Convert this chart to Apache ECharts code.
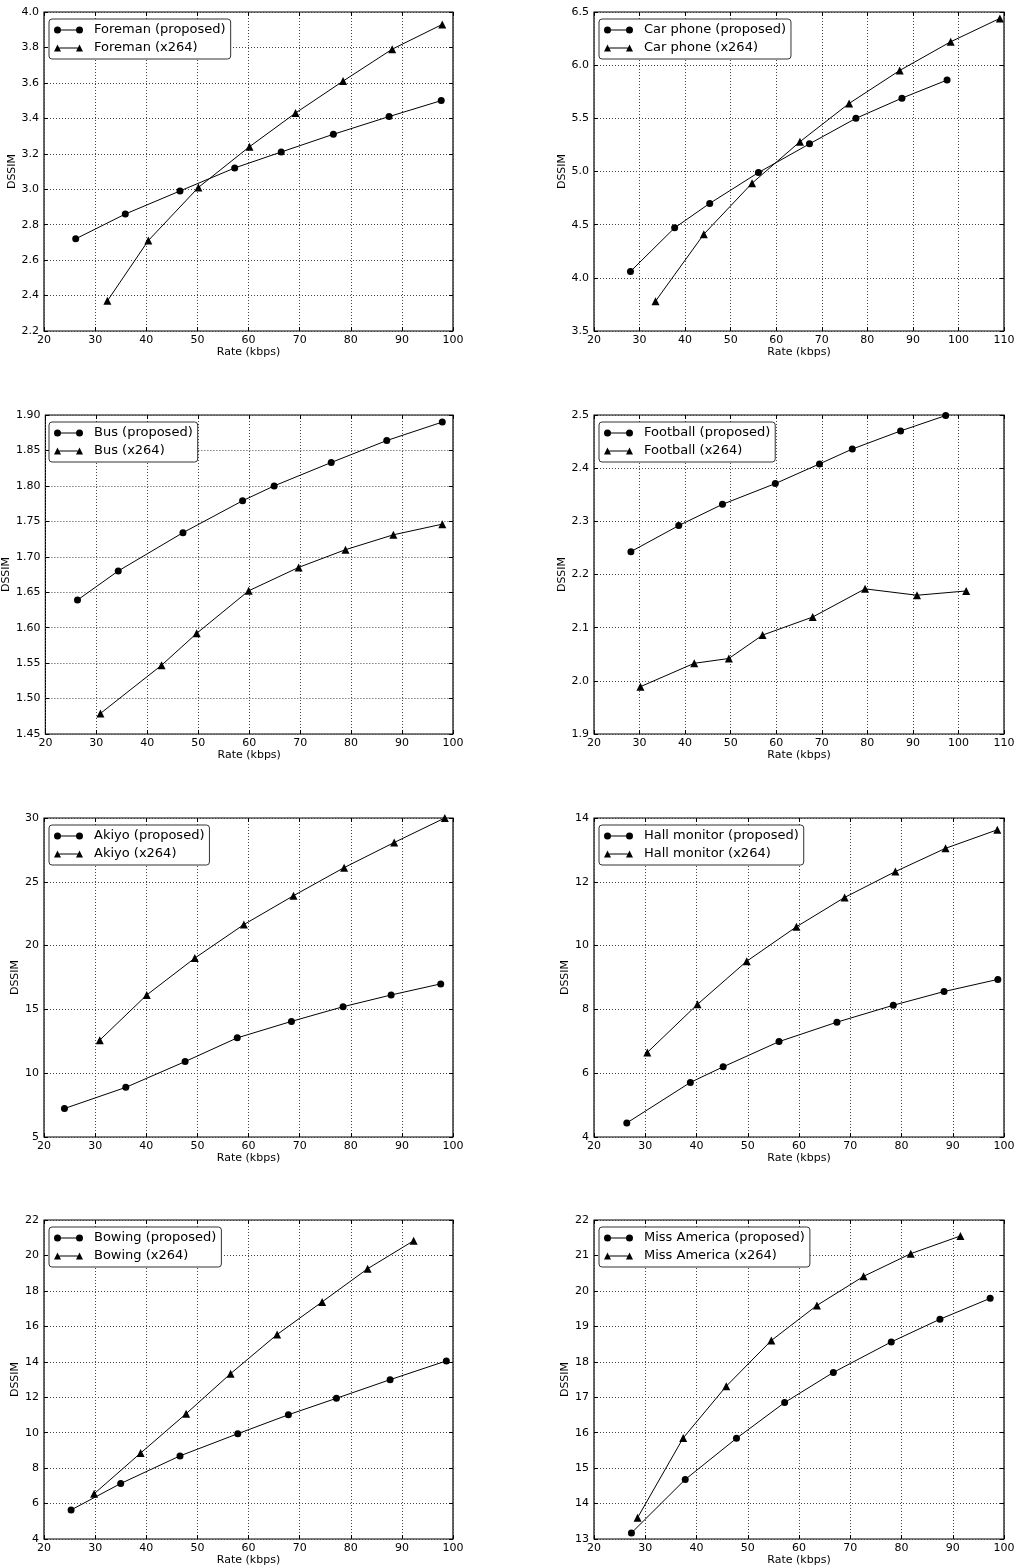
<!DOCTYPE html>
<html>
<head>
<meta charset="utf-8">
<script src="https://cdn.jsdelivr.net/npm/echarts@6/dist/echarts.min.js"></script>
<style>
html,body{margin:0;padding:0;background:#fff;}
#chart{width:1020px;height:1568px;}
</style>
</head>
<body>
<div id="chart"></div>
<script>
// ---------------- DATA ----------------
const foremanPropRate  = [26.2, 35.9, 46.6, 57.3, 66.4, 76.6, 87.5, 97.7];
const foremanPropDssim = [2.72, 2.86, 2.99, 3.12, 3.21, 3.31, 3.41, 3.50];
const foremanX264Rate  = [32.4, 40.4, 50.2, 60.2, 69.2, 78.5, 88.1, 97.9];
const foremanX264Dssim = [2.37, 2.71, 3.01, 3.24, 3.43, 3.61, 3.79, 3.93];

const carPropRate  = [28.0, 37.7, 45.4, 56.1, 67.3, 77.5, 87.6, 97.5];
const carPropDssim = [4.06, 4.47, 4.70, 4.99, 5.26, 5.50, 5.69, 5.86];
const carX264Rate  = [33.5, 44.1, 54.7, 65.2, 76.0, 87.1, 98.3, 109.1];
const carX264Dssim = [3.78, 4.41, 4.89, 5.28, 5.64, 5.95, 6.22, 6.44];

const busPropRate  = [26.3, 34.3, 47.0, 58.7, 64.9, 76.1, 87.0, 97.9];
const busPropDssim = [1.639, 1.680, 1.734, 1.779, 1.800, 1.833, 1.864, 1.890];
const busX264Rate  = [30.8, 42.8, 49.7, 59.9, 69.7, 78.9, 88.3, 97.9];
const busX264Dssim = [1.479, 1.547, 1.592, 1.652, 1.685, 1.710, 1.731, 1.746];

const footPropRate  = [28.1, 38.6, 48.2, 59.8, 69.5, 76.7, 87.3, 97.2];
const footPropDssim = [2.243, 2.292, 2.332, 2.371, 2.408, 2.436, 2.470, 2.499];
const footX264Rate  = [30.2, 42.0, 49.6, 57.0, 68.0, 79.5, 90.9, 101.7];
const footX264Dssim = [1.989, 2.033, 2.042, 2.086, 2.120, 2.173, 2.161, 2.169];

const akiyoPropRate  = [24.0, 36.0, 47.6, 57.8, 68.4, 78.5, 87.9, 97.6];
const akiyoPropDssim = [7.23, 8.89, 10.91, 12.77, 14.06, 15.21, 16.13, 17.00];
const akiyoX264Rate  = [30.9, 40.1, 49.5, 59.1, 68.8, 78.7, 88.5, 98.4];
const akiyoX264Dssim = [12.59, 16.13, 19.02, 21.65, 23.91, 26.11, 28.08, 30.0];

const hallPropRate  = [26.4, 38.8, 45.2, 56.1, 67.4, 78.4, 88.3, 98.8];
const hallPropDssim = [4.44, 5.71, 6.20, 6.99, 7.60, 8.13, 8.56, 8.94];
const hallX264Rate  = [30.4, 40.2, 49.8, 59.5, 68.9, 78.8, 88.6, 98.7];
const hallX264Dssim = [6.65, 8.16, 9.51, 10.59, 11.51, 12.32, 13.05, 13.63];

const bowPropRate  = [25.3, 35.0, 46.6, 57.9, 67.8, 77.2, 87.7, 98.7];
const bowPropDssim = [5.64, 7.13, 8.69, 9.94, 11.01, 11.94, 12.99, 14.05];
const bowX264Rate  = [29.8, 38.9, 47.8, 56.5, 65.6, 74.4, 83.3, 92.3];
const bowX264Dssim = [6.55, 8.85, 11.07, 13.33, 15.54, 17.38, 19.25, 20.83];

const missPropRate  = [27.3, 37.8, 47.8, 57.2, 66.7, 78.0, 87.5, 97.3];
const missPropDssim = [13.17, 14.68, 15.84, 16.85, 17.70, 18.56, 19.20, 19.79];
const missX264Rate  = [28.5, 37.4, 45.8, 54.6, 63.5, 72.6, 81.8, 91.5];
const missX264Dssim = [13.60, 15.85, 17.31, 18.60, 19.59, 20.41, 21.05, 21.55];

// axis ticks: [min, max, step, decimals]
const foremanYTicks = [2.2, 4.0, 0.2, 1];
const carYTicks     = [3.5, 6.5, 0.5, 1];
const busYTicks     = [1.45, 1.90, 0.05, 2];
const footYTicks    = [1.9, 2.5, 0.1, 1];
const akiyoYTicks   = [5, 30, 5, 0];
const hallYTicks    = [4, 14, 2, 0];
const bowYTicks     = [4, 22, 2, 0];
const missYTicks    = [13, 22, 1, 0];
const xTicks100 = [20, 100, 10];
const xTicks110 = [20, 110, 10];

const sequenceNames = ['Foreman', 'Car phone', 'Bus', 'Football', 'Akiyo', 'Hall monitor', 'Bowing', 'Miss America'];
const xLabel = 'Rate (kbps)';
const yLabel = 'DSSIM';

// ---------------- LAYOUT ----------------
const panels = [
  {name: sequenceNames[0], p: [foremanPropRate, foremanPropDssim], x: [foremanX264Rate, foremanX264Dssim], yt: foremanYTicks, xt: xTicks100, col: 0, row: 0, yGap: 22},
  {name: sequenceNames[1], p: [carPropRate, carPropDssim], x: [carX264Rate, carX264Dssim], yt: carYTicks, xt: xTicks110, col: 1, row: 0, yGap: 22},
  {name: sequenceNames[2], p: [busPropRate, busPropDssim], x: [busX264Rate, busX264Dssim], yt: busYTicks, xt: xTicks100, col: 0, row: 1, yGap: 29},
  {name: sequenceNames[3], p: [footPropRate, footPropDssim], x: [footX264Rate, footX264Dssim], yt: footYTicks, xt: xTicks110, col: 1, row: 1, yGap: 22},
  {name: sequenceNames[4], p: [akiyoPropRate, akiyoPropDssim], x: [akiyoX264Rate, akiyoX264Dssim], yt: akiyoYTicks, xt: xTicks100, col: 0, row: 2, yGap: 19},
  {name: sequenceNames[5], p: [hallPropRate, hallPropDssim], x: [hallX264Rate, hallX264Dssim], yt: hallYTicks, xt: xTicks100, col: 1, row: 2, yGap: 19},
  {name: sequenceNames[6], p: [bowPropRate, bowPropDssim], x: [bowX264Rate, bowX264Dssim], yt: bowYTicks, xt: xTicks100, col: 0, row: 3, yGap: 19},
  {name: sequenceNames[7], p: [missPropRate, missPropDssim], x: [missX264Rate, missX264Dssim], yt: missYTicks, xt: xTicks100, col: 1, row: 3, yGap: 19}
];
const colLeft = [44, 594];
const colWidth = [409, 410];
const rowTop = [12, 415, 818, 1220];
const plotH = 319;

const FONT = 'DejaVu Sans';
const circleIcon = 'path://M0,3.5A3.5,3.5,0,1,0,7,3.5A3.5,3.5,0,1,0,0,3.5ZM22,3.5A3.5,3.5,0,1,0,29,3.5A3.5,3.5,0,1,0,22,3.5ZM7,3L22,3L22,4L7,4Z';
const triIcon = 'path://M3.5,0L7,7L0,7ZM25.5,0L29,7L22,7ZM5.25,3L23.75,3L23.75,4L5.25,4Z';

const grids = [], xAxes = [], yAxes = [], series = [], legends = [];
const zip = (a, b) => a.map((v, i) => [v, b[i]]);

panels.forEach((pn, i) => {
  const left = colLeft[pn.col], top = rowTop[pn.row];
  grids.push({left: left, top: top, width: colWidth[pn.col], height: plotH,
    show: true, borderColor: '#000', borderWidth: 1.2, backgroundColor: 'transparent'});
  const dec = pn.yt[3];
  xAxes.push({type: 'value', gridIndex: i, min: pn.xt[0], max: pn.xt[1], interval: pn.xt[2], position: 'bottom',
    name: xLabel, nameLocation: 'middle', nameGap: 16,
    nameTextStyle: {fontFamily: FONT, fontSize: 11, color: '#000'},
    axisLine: {show: false}, axisTick: {show: true, inside: true, length: 4, lineStyle: {color: '#000'}},
    axisLabel: {fontFamily: FONT, fontSize: 11, color: '#000', margin: 4},
    splitLine: {show: true, lineStyle: {color: '#444', type: [1, 2], width: 1}}});
  xAxes.push({type: 'value', gridIndex: i, min: pn.xt[0], max: pn.xt[1], interval: pn.xt[2], position: 'top',
    axisLine: {show: false}, axisTick: {show: true, inside: true, length: 4, lineStyle: {color: '#000'}},
    axisLabel: {show: false}, splitLine: {show: false}});
  yAxes.push({type: 'value', gridIndex: i, min: pn.yt[0], max: pn.yt[1], interval: pn.yt[2], position: 'left',
    name: yLabel, nameLocation: 'middle', nameGap: pn.yGap,
    nameTextStyle: {fontFamily: FONT, fontSize: 11, color: '#000'},
    axisLine: {show: false}, axisTick: {show: true, inside: true, length: 4, lineStyle: {color: '#000'}},
    axisLabel: {fontFamily: FONT, fontSize: 11, color: '#000', margin: 5, formatter: v => v.toFixed(dec)},
    splitLine: {show: true, lineStyle: {color: '#444', type: [1, 2], width: 1}}});
  yAxes.push({type: 'value', gridIndex: i, min: pn.yt[0], max: pn.yt[1], interval: pn.yt[2], position: 'right',
    axisLine: {show: false}, axisTick: {show: true, inside: true, length: 4, lineStyle: {color: '#000'}},
    axisLabel: {show: false}, splitLine: {show: false}});

  const nProp = pn.name + ' (proposed)';
  const nX = pn.name + ' (x264)';
  series.push({type: 'line', name: nProp, xAxisIndex: 2 * i, yAxisIndex: 2 * i, data: zip(pn.p[0], pn.p[1]),
    symbol: 'circle', symbolSize: 7, color: '#000', lineStyle: {color: '#000', width: 1},
    itemStyle: {color: '#000'}, clip: false, z: 3});
  series.push({type: 'line', name: nX, xAxisIndex: 2 * i, yAxisIndex: 2 * i, data: zip(pn.x[0], pn.x[1]),
    symbol: 'triangle', symbolSize: 8, color: '#000', lineStyle: {color: '#000', width: 1},
    itemStyle: {color: '#000'}, clip: false, z: 3});

  legends.push({
    orient: 'vertical', left: left + 5, top: top + 7,
    selectedMode: false,
    backgroundColor: '#fff', borderColor: '#333', borderWidth: 1, borderRadius: 3,
    padding: [4, 5, 4, 5], itemGap: 4, itemWidth: 29, itemHeight: 7,
    textStyle: {fontFamily: FONT, fontSize: 13, color: '#000', lineHeight: 14, padding: [0, 0, 0, 6]},
    data: [{name: nProp, icon: circleIcon}, {name: nX, icon: triIcon}],
    z: 10
  });
});

const chart = echarts.init(document.getElementById('chart'), null, {renderer: 'canvas'});
chart.setOption({
  animation: false,
  backgroundColor: '#fff',
  textStyle: {fontFamily: FONT},
  grid: grids, xAxis: xAxes, yAxis: yAxes, series: series, legend: legends
});
</script>
</body>
</html>
